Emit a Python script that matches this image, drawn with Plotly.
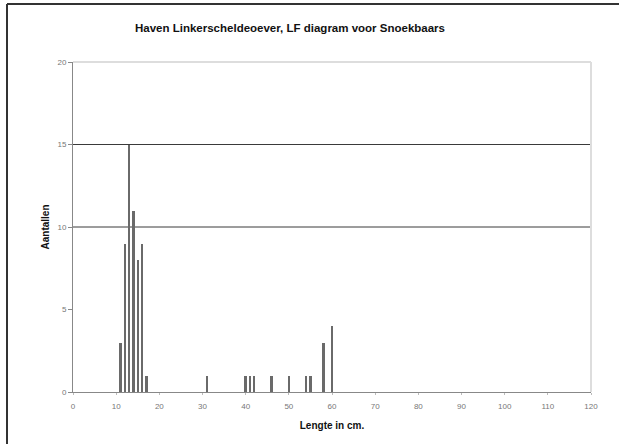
import plotly.graph_objects as go

lengths = [11, 12, 13, 14, 15, 16, 17, 31, 40, 41, 42, 46, 50, 54, 55, 58, 60]
counts = [3, 9, 15, 11, 8, 9, 1, 1, 1, 1, 1, 1, 1, 1, 1, 3, 4]
x_ticks = list(range(0, 121, 10))
y_ticks = [0, 5, 10, 15, 20]
grid_levels = [10, 15]

W, H = 619, 444
L, R, T, B = 73, 591, 62, 392

fig = go.Figure()
fig.add_trace(go.Bar(x=lengths, y=counts, width=0.55,
                     marker=dict(color="#6a6a6a", line=dict(width=0))))

shapes = []
for g in grid_levels:
    shapes.append(dict(type="line", xref="paper", yref="y", x0=0, x1=1, y0=g, y1=g,
                       line=dict(color="#3a3a3a", width=1), layer="below"))
# plot area top/right light border
shapes.append(dict(type="line", xref="paper", yref="paper", x0=0, x1=1, y0=1, y1=1,
                   line=dict(color="#dddddd", width=2)))
shapes.append(dict(type="line", xref="paper", yref="paper", x0=1, x1=1, y0=0, y1=1,
                   line=dict(color="#dddddd", width=2)))
# outer frame (top and left)
pw, ph = R - L, B - T
fx = (7 - L) / pw
fy = (B - 4) / ph
shapes.append(dict(type="line", xref="paper", yref="paper", x0=fx, x1=(W + 10 - L) / pw, y0=fy, y1=fy,
                   line=dict(color="#333333", width=2)))
shapes.append(dict(type="line", xref="paper", yref="paper", x0=fx, x1=fx, y0=fy, y1=(B - H - 10) / ph,
                   line=dict(color="#333333", width=2)))

fig.update_layout(
    width=W, height=H,
    margin=dict(l=L, r=W - R, t=T, b=H - B),
    paper_bgcolor="white", plot_bgcolor="white",
    showlegend=False,
    font=dict(family="Liberation Sans, Arial, sans-serif"),
    title=dict(text="<b>Haven Linkerscheldeoever, LF diagram voor Snoekbaars</b>",
               x=290 / W, xanchor="center", y=1 - 28 / H, yanchor="middle",
               font=dict(size=11.5, color="#111111")),
    shapes=shapes,
    bargap=0,
)
fig.update_xaxes(range=[0, 120], tickvals=x_ticks, ticktext=[str(v) for v in x_ticks],
                 showgrid=False, zeroline=False, showline=True, linecolor="#888888", linewidth=1,
                 ticks="outside", ticklen=2, tickcolor="#bbbbbb", ticklabelstandoff=4,
                 tickfont=dict(size=8, color="#777777"),
                 title=dict(text="<b>Lengte in cm.</b>", font=dict(size=10, color="#111111"), standoff=12))
fig.update_yaxes(range=[0, 20], tickvals=y_ticks, showgrid=False, zeroline=False,
                 showline=True, linecolor="#888888", linewidth=1,
                 ticks="outside", ticklen=4, tickcolor="#888888",
                 tickfont=dict(size=8, color="#777777"),
                 title=dict(text="<b>Aantallen</b>", font=dict(size=10, color="#111111"), standoff=5))

fig.write_html("out.html", config={"displayModeBar": False},
               post_script="document.body.style.margin='0';document.body.style.overflow='hidden';")
